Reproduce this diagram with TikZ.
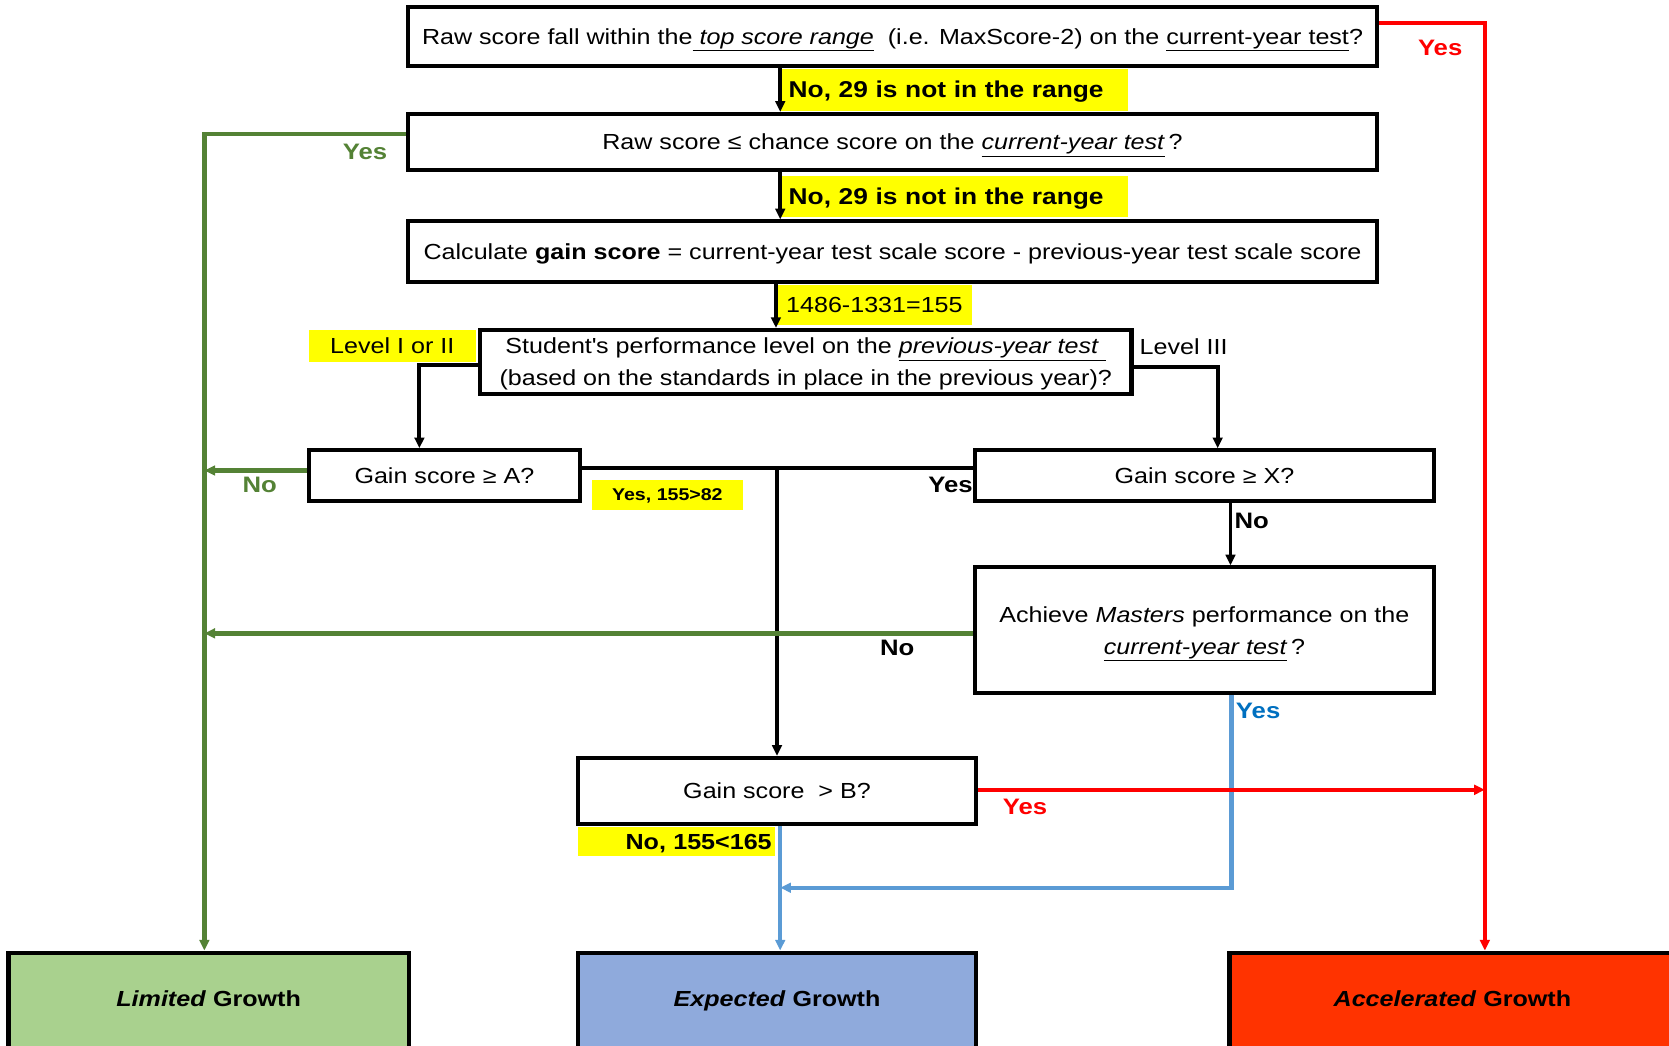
\documentclass[tikz,border=0pt]{standalone}
\usepackage{fontspec}
\setmainfont[FakeStretch=1.15]{Liberation Sans}
\usetikzlibrary{arrows.meta,calc}
\definecolor{ygreen}{HTML}{548235}
\definecolor{lblue}{HTML}{5B9BD5}
\definecolor{yesblue}{HTML}{0070C0}
\definecolor{limfill}{HTML}{A9D18E}
\definecolor{expfill}{HTML}{8FAADC}
\definecolor{accfill}{HTML}{FF3300}
\definecolor{hl}{HTML}{FFFF00}
\begin{document}
\begin{tikzpicture}[x=1pt,y=-1pt,
  box/.style={draw=black, line width=3.8pt, inner sep=0pt, align=center, font=\fontsize{20.5}{30}\selectfont},
  oneline/.style={text height=15pt, text depth=0.5pt},
  twoline/.style={text depth=0pt},
  outbox/.style={draw=black, line width=4pt, inner sep=0pt, text height=15pt, text depth=13pt, font=\fontsize{20.5}{24}\selectfont\bfseries},
  hlbox/.style={fill=hl, inner sep=0pt, text height=15.3pt, text depth=0.5pt},
  regtext/.style={inner sep=0pt, font=\fontsize{20.5}{24}\selectfont},
  boldtext/.style={inner sep=0pt, font=\fontsize{21}{24}\selectfont\bfseries},
  tip/.style={-{Triangle[length=10pt,width=9pt]}},
  conn/.style={draw=black, line width=3.6pt},
  gconn/.style={draw=ygreen, line width=4.2pt},
  bconn/.style={draw=lblue, line width=3.9pt},
  rconn/.style={draw=red, line width=3.9pt}
]
\path[use as bounding box] (0,0) rectangle (1568,982);
\clip (0,0) rectangle (1568,982);

% decision boxes
\node[box, oneline, minimum width=911pt, minimum height=55pt] (b1) at (838.5,34.5)
  {Raw score fall within the\underline{\textit{ top score range}}\ \ (i.e. MaxScore-2) on the \underline{current-year test}?};
\node[box, oneline, minimum width=911pt, minimum height=53pt] (b2) at (838.5,133.5)
  {Raw score ≤ chance score on the \underline{\textit{current-year test}}\,?};
\node[box, oneline, minimum width=911pt, minimum height=57pt] (b3) at (838.5,236.5)
  {Calculate \textbf{gain score} = current-year test scale score - previous-year test scale score};
\node[box, twoline, minimum width=612pt, minimum height=60pt] (b4) at (757,340)
  {Student\textquotesingle s performance level on the \underline{\textit{previous-year test }}\\(based on the standards in place in the previous year)?};
\node[box, oneline, minimum width=255pt, minimum height=48pt] (b5) at (417.5,447) {Gain score ≥ A?};
\node[box, oneline, minimum width=431pt, minimum height=48pt] (b6) at (1131.5,447) {Gain score ≥ X?};
\node[box, twoline, minimum width=431pt, minimum height=118pt] (b7) at (1131.5,592)
  {Achieve \textit{Masters} performance on the\\\underline{\textit{current-year test}}\,?};
\node[box, oneline, minimum width=374pt, minimum height=62pt] (b8) at (730,743) {Gain score\ \ > B?};

% outcome boxes
\node[outbox, fill=limfill, minimum width=376pt, minimum height=100pt] (lim) at (196,945) {\textit{Limited} Growth};
\node[outbox, fill=expfill, minimum width=374pt, minimum height=100pt] (exp) at (730,945) {\textit{Expected} Growth};
\node[outbox, fill=accfill, minimum width=419pt, minimum height=100pt] (acc) at (1364.5,945) {\textit{Accelerated} Growth};

% highlighted labels
\node[hlbox, minimum width=327pt, minimum height=39pt, text width=311pt, align=left, font=\fontsize{21.5}{24}\selectfont\bfseries] (l1) at (896.5,84.5) {No, 29 is not in the range};
\node[hlbox, minimum width=327pt, minimum height=39pt, text width=311pt, align=left, font=\fontsize{21.5}{24}\selectfont\bfseries] (l2) at (896.5,184.5) {No, 29 is not in the range};
\node[hlbox, regtext, minimum width=183pt, minimum height=37pt] (l3) at (821.5,286.5) {1486-1331=155};
\node[hlbox, regtext, minimum width=157pt, minimum height=30pt] (l4) at (368.5,325) {Level I or II};
\node[regtext] (l4b) at (1112,326) {Level III};
\node[hlbox, minimum width=142pt, minimum height=28pt, text height=11.5pt, font=\fontsize{16}{18}\selectfont\bfseries] (l5) at (627,465) {Yes, 155>82};
\node[hlbox, minimum width=185pt, minimum height=27pt, text width=179pt, align=right, font=\fontsize{20.5}{22}\selectfont\bfseries] (l6) at (635.5,790.5) {No, 155<165};

% plain answer labels
\node[boldtext] (t1) at (893,456) {Yes};
\node[boldtext] (t2) at (1176,489) {No};
\node[boldtext] (t3) at (843,609) {No};
\node[boldtext, text=ygreen] (t4) at (343,143) {Yes};
\node[boldtext, text=ygreen] (t5) at (244,456) {No};
\node[boldtext, text=red] (t6) at (1353,45) {Yes};
\node[boldtext, text=red] (t7) at (963,758) {Yes};
\node[boldtext, text=yesblue] (t8) at (1182,668) {Yes};

% helper coordinates
\coordinate (xa) at (733,0);
\coordinate (xb) at (729,0);
\coordinate (xl) at (394,0);
\coordinate (xr) at (1144,0);
\coordinate (xn) at (1156,0);
\coordinate (xy) at (1157,0);
\coordinate (xg) at (192,0);
\coordinate (xred) at (1395,0);
\coordinate (yl) at (0,343);
\coordinate (yr) at (0,345);
\coordinate (ym) at (0,440);
\coordinate (yg) at (0,126);
\coordinate (yg2) at (0,442);
\coordinate (yg3) at (0,595);
\coordinate (yb) at (0,834);
\coordinate (yr1) at (0,22);
\coordinate (yr2) at (0,742);

% black connectors
\draw[conn, tip] (xa |- b1.south) -- (xa |- b2.north);
\draw[conn, tip] (xa |- b2.south) -- (xa |- b3.north);
\draw[conn, tip] (xb |- b3.south) -- (xb |- b4.north);
\draw[conn, tip] (b4.west |- yl) -| (xl |- b5.north);
\draw[conn, tip] (b4.east |- yr) -| (xr |- b6.north);
\draw[conn] (b5.east |- ym) -- (b6.west |- ym);
\draw[conn, tip] (b8.north |- ym) -- (b8.north);
\draw[conn, tip] (xn |- b6.south) -- (xn |- b7.north);

% green connectors
\draw[gconn, tip] (b2.west |- yg) -| (xg |- lim.north);
\draw[gconn, tip] (b5.west |- yg2) -- (xg |- yg2);
\draw[gconn, tip] (b7.west |- yg3) -- (xg |- yg3);

% blue connectors
\draw[bconn, tip] (xy |- b7.south) |- (xa |- yb);
\draw[bconn, tip] (xa |- b8.south) -- (xa |- exp.north);

% red connectors
\draw[rconn, tip] (b8.east |- yr2) -- (xred |- yr2);
\draw[rconn, tip] (b1.east |- yr1) -| (xred |- acc.north);
\end{tikzpicture}
\end{document}
